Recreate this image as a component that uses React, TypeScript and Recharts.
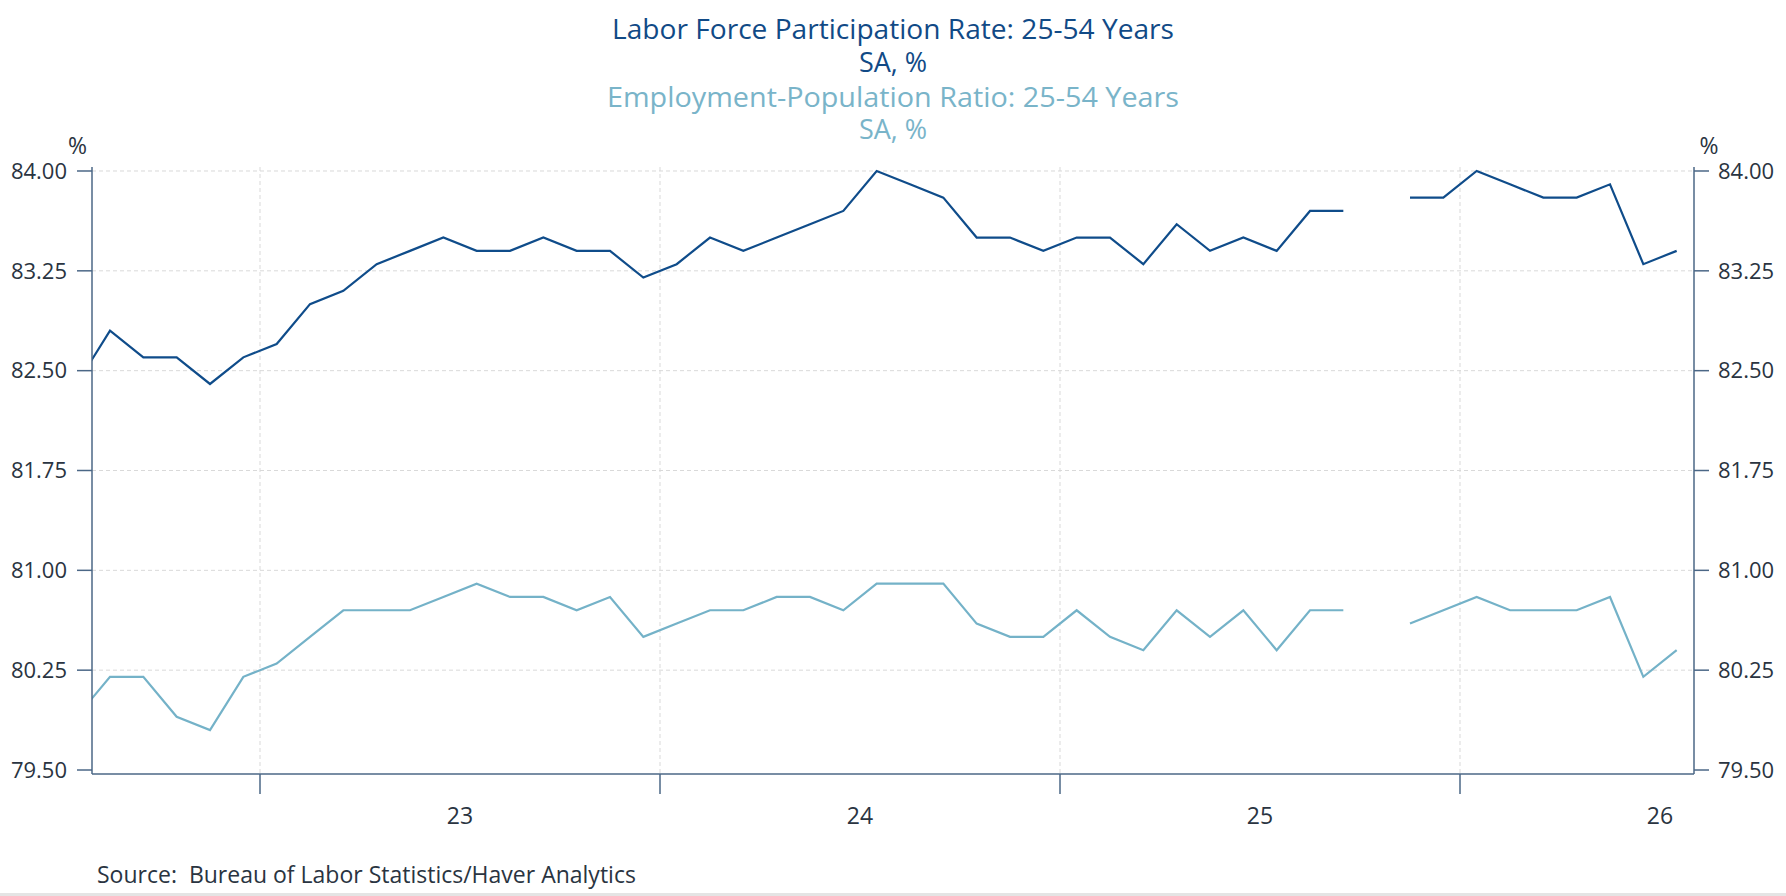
import { CartesianGrid, Line, LineChart, XAxis, YAxis } from "recharts";

// months as shown on the chart's axis (year labels sit mid-year)
const months = [
  "2022-07", "2022-08", "2022-09", "2022-10", "2022-11", "2022-12",
  "2023-01", "2023-02", "2023-03", "2023-04", "2023-05", "2023-06",
  "2023-07", "2023-08", "2023-09", "2023-10", "2023-11", "2023-12",
  "2024-01", "2024-02", "2024-03", "2024-04", "2024-05", "2024-06",
  "2024-07", "2024-08", "2024-09", "2024-10", "2024-11", "2024-12",
  "2025-01", "2025-02", "2025-03", "2025-04", "2025-05", "2025-06",
  "2025-07", "2025-08", "2025-09", "2025-10", "2025-11", "2025-12",
  "2026-01", "2026-02", "2026-03", "2026-04", "2026-05", "2026-06",
  "2026-07",
];

const participation = [
  82.4, 82.8, 82.6, 82.6, 82.4, 82.6,
  82.7, 83.0, 83.1, 83.3, 83.4, 83.5, 83.4, 83.4, 83.5, 83.4, 83.4, 83.2,
  83.3, 83.5, 83.4, 83.5, 83.6, 83.7, 84.0, 83.9, 83.8, 83.5, 83.5, 83.4,
  83.5, 83.5, 83.3, 83.6, 83.4, 83.5, 83.4, 83.7, 83.7, null, 83.8, 83.8,
  84.0, 83.9, 83.8, 83.8, 83.9, 83.3, 83.4,
];

const employment = [
  79.9, 80.2, 80.2, 79.9, 79.8, 80.2,
  80.3, 80.5, 80.7, 80.7, 80.7, 80.8, 80.9, 80.8, 80.8, 80.7, 80.8, 80.5,
  80.6, 80.7, 80.7, 80.8, 80.8, 80.7, 80.9, 80.9, 80.9, 80.6, 80.5, 80.5,
  80.7, 80.5, 80.4, 80.7, 80.5, 80.7, 80.4, 80.7, 80.7, null, 80.6, 80.7,
  80.8, 80.7, 80.7, 80.7, 80.8, 80.2, 80.4,
];

const yTicks = [79.5, 80.25, 81, 81.75, 82.5, 83.25, 84];
const gridY = [80.25, 81, 81.75, 82.5, 83.25, 84];
// year boundaries, in months since Jan 2023
const yearTicks = [0, 12, 24, 36];
const yearLabels = ["23", "24", "25", "26"];

const DARK = "#0f4c8a";
const LIGHT = "#74b2c8";
const AXIS = "#4b6786";
const TEXT = "#2a3441";
const FONT = "'Open Sans', 'Noto Sans', sans-serif";

// plot the point in the middle of its month
const toT = (m: string) => {
  const [y, mo] = m.split("-").map(Number);
  return (y - 2023) * 12 + (mo - 1) + 0.5;
};

const data = months.map((m, i) => ({
  t: toT(m),
  lfpr: participation[i],
  epop: employment[i],
}));

const fmt = (v: number) => v.toFixed(2);

const YearTick = (props: any) => {
  const { x, y, payload } = props;
  const idx = yearTicks.indexOf(payload.value);
  return (
    <text
      x={x + 200}
      y={y + 28}
      textAnchor="middle"
      fill={TEXT}
      fontSize={23}
      fontFamily={FONT}
    >
      {yearLabels[idx]}
    </text>
  );
};

export default function App() {
  return (
    <div style={{ position: "absolute", left: 0, top: 0, width: 1786, height: 896, background: "#fff" }}>
      <LineChart
        width={1786}
        height={896}
        data={data}
        margin={{ top: 167, right: 0, bottom: 82, left: 0 }}
      >
        <CartesianGrid
          yAxisId="left"
          stroke="#d9d9d9"
          strokeDasharray="4 3"
          horizontalValues={gridY}
          verticalValues={yearTicks}
        />
        <XAxis
          dataKey="t"
          type="number"
          domain={[-5.04, 43.02]}
          allowDataOverflow
          ticks={yearTicks}
          interval={0}
          height={40}
          tickSize={20}
          axisLine={{ stroke: AXIS, strokeWidth: 1.5 }}
          tickLine={{ stroke: AXIS, strokeWidth: 1.5 }}
          tick={<YearTick />}
        />
        <YAxis
          yAxisId="left"
          orientation="left"
          type="number"
          domain={[79.47, 84.03]}
          allowDataOverflow
          ticks={yTicks}
          interval={0}
          width={92}
          tickSize={15}
          tickMargin={10}
          tickFormatter={fmt}
          axisLine={{ stroke: AXIS, strokeWidth: 1.5 }}
          tickLine={{ stroke: AXIS, strokeWidth: 1.5 }}
          tick={{ fill: TEXT, fontSize: 22, fontFamily: FONT }}
        />
        <YAxis
          yAxisId="right"
          orientation="right"
          type="number"
          domain={[79.47, 84.03]}
          allowDataOverflow
          ticks={yTicks}
          interval={0}
          width={92}
          tickSize={15}
          tickMargin={9}
          tickFormatter={fmt}
          axisLine={{ stroke: AXIS, strokeWidth: 1.5 }}
          tickLine={{ stroke: AXIS, strokeWidth: 1.5 }}
          tick={{ fill: TEXT, fontSize: 22, fontFamily: FONT }}
        />
        <Line
          yAxisId="left"
          type="linear"
          dataKey="lfpr"
          stroke={DARK}
          strokeWidth={2.2}
          dot={false}
          activeDot={false}
          isAnimationActive={false}
        />
        <Line
          yAxisId="left"
          type="linear"
          dataKey="epop"
          stroke={LIGHT}
          strokeWidth={2.2}
          dot={false}
          activeDot={false}
          isAnimationActive={false}
        />
      </LineChart>
      <svg
        width={1786}
        height={896}
        style={{ position: "absolute", left: 0, top: 0, pointerEvents: "none" }}
        fontFamily={FONT}
      >
        <text x={893} y={39} textAnchor="middle" fontSize={27} fill="#114a86" textLength={562} lengthAdjust="spacingAndGlyphs">
          Labor Force Participation Rate: 25-54 Years
        </text>
        <text x={893} y={71.5} textAnchor="middle" fontSize={27} fill="#114a86">
          SA, %
        </text>
        <text x={893} y={107} textAnchor="middle" fontSize={27} fill="#79b4c9" textLength={572} lengthAdjust="spacingAndGlyphs">
          Employment-Population Ratio: 25-54 Years
        </text>
        <text x={893} y={139} textAnchor="middle" fontSize={27} fill="#79b4c9">
          SA, %
        </text>
        <text x={77.5} y={154} textAnchor="middle" fontSize={23} fill={TEXT}>%</text>
        <text x={1709} y={154} textAnchor="middle" fontSize={23} fill={TEXT}>%</text>
        <text x={97} y={883} fontSize={23} fill={TEXT}>
          Source:{"\u00a0\u00a0"}Bureau of Labor Statistics/Haver Analytics
        </text>
        <rect x={0} y={893} width={1786} height={3} fill="#e4e4e4" />
      </svg>
    </div>
  );
}
